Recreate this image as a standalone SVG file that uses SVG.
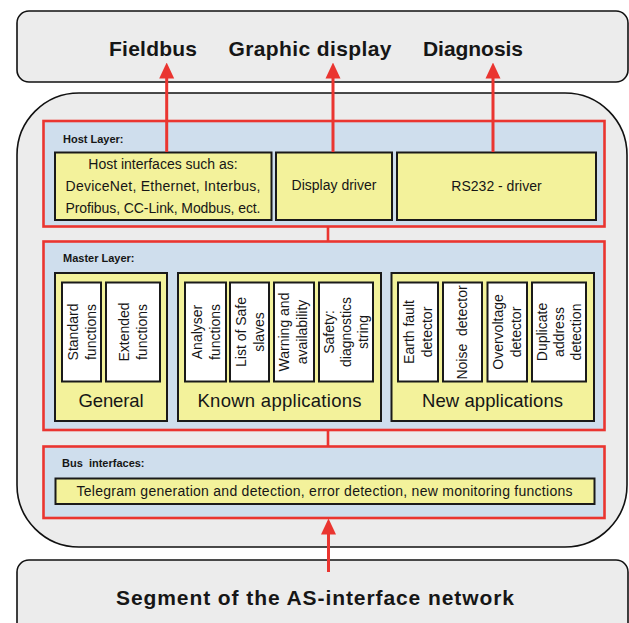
<svg xmlns="http://www.w3.org/2000/svg" width="629" height="623" viewBox="0 0 629 623">
<defs>
<style>
.gray{fill:#ececec;stroke:#111;stroke-width:1.6}
.layer{fill:#cfdeed;stroke:#ea3530;stroke-width:2.6}
.ybox{fill:#f3f29b;stroke:#1a1a1a;stroke-width:2}
.wbox{fill:#ffffff;stroke:#1a1a1a;stroke-width:2}
.conn{stroke:#ea3530;stroke-width:3;fill:none}
.wire{stroke:#ea3530;stroke-width:2.6;fill:none}
text{font-family:"Liberation Sans",Arial,sans-serif;fill:#161616}
.big{font-size:21px;font-weight:bold;text-anchor:middle}
.hdr{font-size:11px;font-weight:bold}
.t14{font-size:14px;text-anchor:middle}
.t18{font-size:18.5px;text-anchor:middle}
</style>
<marker id="ah" markerUnits="userSpaceOnUse" markerWidth="16" markerHeight="16" viewBox="0 0 16 16" refX="0.5" refY="8" orient="auto">
<path d="M0,0.5 L16,8 L0,15.5 Z" fill="#ea3530"/>
</marker>
</defs>

<g id="top-box">
<rect class="gray" x="17" y="11" width="611" height="71" rx="12"/>
<text class="big" x="153" y="56" textLength="88">Fieldbus</text>
<text class="big" x="310" y="56" textLength="163">Graphic display</text>
<text class="big" x="473" y="56" textLength="100">Diagnosis</text>
</g>

<g id="container">
<rect class="gray" x="17" y="93" width="610" height="454" rx="62"/>
</g>

<g id="bottom-box">
<rect class="gray" x="17" y="560" width="611" height="80" rx="12"/>
<text class="big" x="315" y="605" textLength="398">Segment of the AS-interface network</text>
</g>

<g id="host-layer">
<rect class="layer" x="43.5" y="121" width="561" height="105.5"/>
<text class="hdr" x="63" y="143">Host Layer:</text>
</g>
<g id="host-interfaces">
<rect class="ybox" x="55" y="152.5" width="216.5" height="67.5"/>
<text class="t14" x="163" y="168.5">Host interfaces such as:</text>
<text class="t14" x="163" y="190.5" textLength="195">DeviceNet, Ethernet, Interbus,</text>
<text class="t14" x="163" y="212.5" textLength="195">Profibus, CC-Link, Modbus, ect.</text>
</g>
<g id="display-driver">
<rect class="ybox" x="276" y="152.5" width="116" height="67.5"/>
<text class="t14" x="334" y="190">Display driver</text>
</g>
<g id="rs232-driver">
<rect class="ybox" x="397" y="152.5" width="199" height="67.5"/>
<text class="t14" x="496.5" y="191">RS232 - driver</text>
</g>

<g id="master-layer">
<rect class="layer" x="43.5" y="241.5" width="561" height="188.5"/>
<text class="hdr" x="63" y="262">Master Layer:</text>
</g>

<g id="general">
<rect class="ybox" x="55" y="273" width="112" height="148"/>
<rect class="wbox" x="62" y="282.5" width="39" height="99"/>
<text class="t14" transform="translate(81.5,332) rotate(-90)"><tspan x="0" y="-4">Standard</tspan><tspan x="0" y="14">functions</tspan></text>
<rect class="wbox" x="106" y="282.5" width="54" height="99"/>
<text class="t14" transform="translate(133,332) rotate(-90)"><tspan x="0" y="-4">Extended</tspan><tspan x="0" y="14">functions</tspan></text>
<text class="t18" x="111" y="407" textLength="65">General</text>
</g>

<g id="known-applications">
<rect class="ybox" x="178" y="273" width="203" height="148"/>
<rect class="wbox" x="185" y="282.5" width="41" height="99"/>
<text class="t14" transform="translate(205.5,332) rotate(-90)"><tspan x="0" y="-4">Analyser</tspan><tspan x="0" y="14">functions</tspan></text>
<rect class="wbox" x="230" y="282.5" width="39" height="99"/>
<text class="t14" transform="translate(249.5,332) rotate(-90)"><tspan x="0" y="-4">List of Safe</tspan><tspan x="0" y="14">slaves</tspan></text>
<rect class="wbox" x="274" y="282.5" width="40" height="99"/>
<text class="t14" transform="translate(294,332) rotate(-90)"><tspan x="0" y="-5">Warning and</tspan><tspan x="0" y="13">availability</tspan></text>
<rect class="wbox" x="319" y="282.5" width="54" height="99"/>
<text class="t14" transform="translate(346,332) rotate(-90)"><tspan x="0" y="-12">Safety:</tspan><tspan x="0" y="5">diagnostics</tspan><tspan x="0" y="22">string</tspan></text>
<text class="t18" x="279.5" y="407" textLength="164">Known applications</text>
</g>

<g id="new-applications">
<rect class="ybox" x="391.5" y="273" width="202.5" height="148"/>
<rect class="wbox" x="398" y="282.5" width="40" height="99"/>
<text class="t14" transform="translate(418,332) rotate(-90)"><tspan x="0" y="-4">Earth fault</tspan><tspan x="0" y="14">detector</tspan></text>
<rect class="wbox" x="443" y="282.5" width="39" height="99"/>
<text class="t14" transform="translate(462.5,332.5) rotate(-90)" xml:space="preserve" y="4">Noise  detector</text>
<rect class="wbox" x="487.5" y="282.5" width="39.5" height="99"/>
<text class="t14" transform="translate(507,332) rotate(-90)"><tspan x="0" y="-4">Overvoltage</tspan><tspan x="0" y="14">detector</tspan></text>
<rect class="wbox" x="532" y="282.5" width="54" height="99"/>
<text class="t14" transform="translate(559,332) rotate(-90)"><tspan x="0" y="-12">Duplicate</tspan><tspan x="0" y="5">address</tspan><tspan x="0" y="22">detection</tspan></text>
<text class="t18" x="492.5" y="407" textLength="141">New applications</text>
</g>

<g id="bus-interfaces">
<rect class="layer" x="43.5" y="446.5" width="561" height="71.5"/>
<text class="hdr" x="62" y="466.5" xml:space="preserve">Bus  interfaces:</text>
<rect class="ybox" x="55.5" y="478.5" width="539" height="25.5"/>
<text class="t14" x="324.5" y="496" textLength="496">Telegram generation and detection, error detection, new monitoring functions</text>
</g>

<g id="connectors">
<line class="conn" x1="166.7" y1="152" x2="166.7" y2="78" marker-end="url(#ah)"/>
<line class="conn" x1="333" y1="152" x2="333" y2="78" marker-end="url(#ah)"/>
<line class="conn" x1="493" y1="152" x2="493" y2="78" marker-end="url(#ah)"/>
<line class="conn" x1="328.5" y1="572" x2="328.5" y2="534" marker-end="url(#ah)"/>
<line class="wire" x1="328" y1="226.5" x2="328" y2="241.5"/>
<line class="wire" x1="328" y1="430" x2="328" y2="446.5"/>
</g>
</svg>
